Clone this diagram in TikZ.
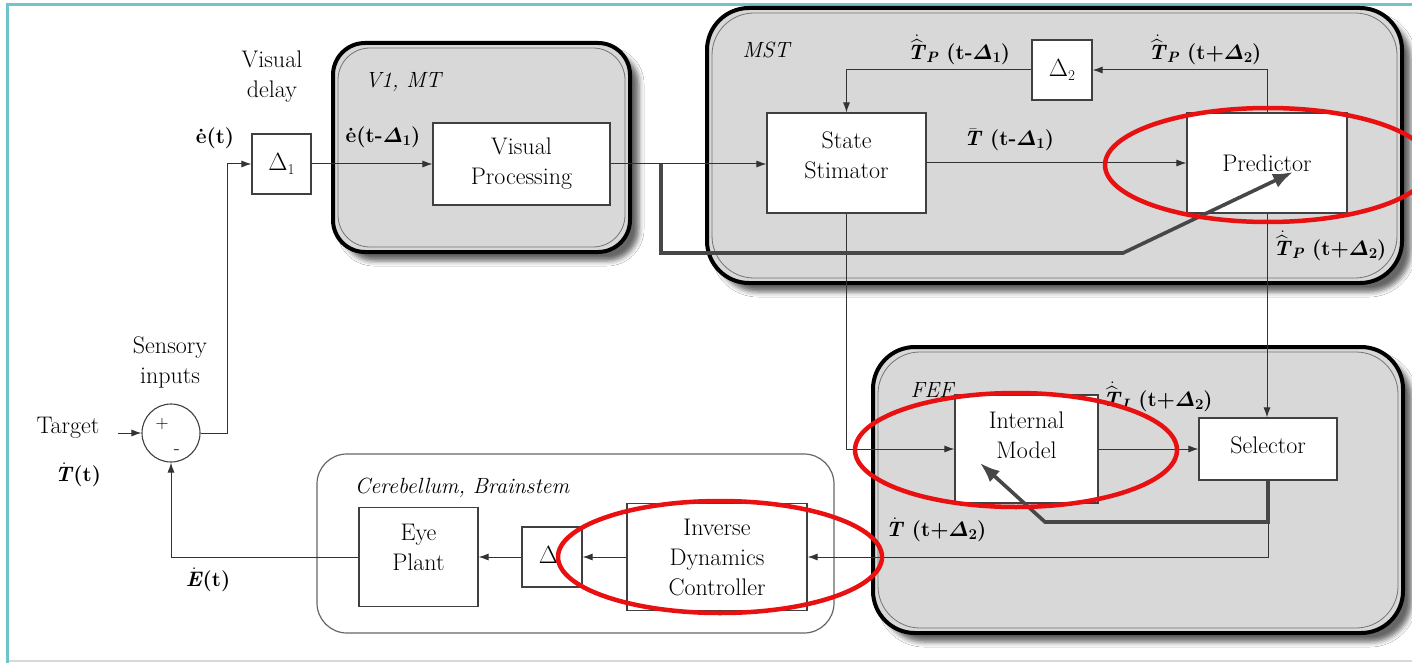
\documentclass[tikz,border=0pt]{standalone}
\usepackage{amsmath}
\usepackage{fontspec}
\usetikzlibrary{arrows.meta,shadows.blur}
\definecolor{grpfill}{RGB}{216,216,216}
\definecolor{frameteal}{RGB}{112,196,202}
\definecolor{ringred}{RGB}{232,16,16}
\newcommand\bT{\mbox{\textbf{\textit{T}}}}
\newcommand\lowsub[1]{\raisebox{-0.3ex}{\fontsize{15}{15}\selectfont #1}}
\newcommand\Tsub[1]{$\dot{\widehat{\bT}}$\lowsub{\textit{#1}}}
\newcommand\dsub[1]{$\boldsymbol{\varDelta}$\lowsub{#1}}
\newcommand\grpbox[5]{%
  \path[fill=grpfill, rounded corners=#5pt, blur shadow={shadow xshift=9pt, shadow yshift=-9pt, shadow opacity=60, shadow blur radius=5pt}] (#1,#2) rectangle (#3,#4);
  \draw[line width=4pt, rounded corners=#5pt] (#1,#2) rectangle (#3,#4);
  \draw[line width=0.8pt, black!55, rounded corners=#5pt] (#1+5,#2+5) rectangle (#3-5,#4-5);}
\tikzset{
  every node/.style={font=\rmfamily\fontsize{24}{30}\selectfont},
  blk/.style={draw=black!75, line width=1.1pt, fill=white, inner sep=0pt, align=center},
  conn/.style={draw=black!80, line width=1pt},
  arr/.style={conn, -{Latex[length=10pt,width=7pt]}},
  thickarr/.style={draw=black!72, line width=3.6pt, -{Latex[length=20pt,width=15pt]}},
  lbl/.style={inner sep=0pt, align=center},
  mlbl/.style={inner sep=0pt, font=\rmfamily\bfseries\fontsize{21}{26}\selectfont},
  grplbl/.style={inner sep=0pt, font=\rmfamily\fontsize{22}{28}\selectfont\itshape},
  redring/.style={draw=ringred, line width=4.5pt},
}
\begin{document}
\begin{tikzpicture}[x=1pt,y=-1pt]
\useasboundingbox (0,0) rectangle (1412,663);
\fill[white] (0,0) rectangle (1412,663);
% frame
\draw[black!15, line width=1.5pt] (7,661) -- (1412,661);
\draw[frameteal, line width=3pt] (7,663) -- (7,5) -- (1412,5);

% groups
\grpbox{333}{43}{630}{252}{32}
\grpbox{707}{8}{1402}{283}{42}
\grpbox{873}{347}{1403}{633}{42}
\draw[black!60, line width=1.2pt, fill=white, rounded corners=30pt] (317,454) rectangle (834,633);

% group labels
\node[grplbl] (gv1) at (403,82) {V1, MT};
\node[grplbl] (gmst) at (766,50) {MST};
\node[grplbl] (gfef) at (932,390) {FEF};
\node[grplbl] (gcb) at (462,488) {Cerebellum, Brainstem};

% blocks
\node[blk, minimum width=59pt, minimum height=60pt] (d1) at (281.5,164) {$\Delta$\lowsub{1}};
\node[blk, minimum width=177pt, minimum height=82pt] (vp) at (521.5,164) {Visual\\Processing};
\node[blk, minimum width=159pt, minimum height=100pt] (ss) at (846.5,163) {};
\node[lbl] (sst) at (846.5,155) {State\\Stimator};
\node[blk, minimum width=160pt, minimum height=100pt] (pred) at (1267,163) {Predictor};
\node[blk, minimum width=60pt, minimum height=60pt] (d2) at (1062,70) {$\Delta$\lowsub{2}};
\node[blk, minimum width=143pt, minimum height=108pt] (im) at (1026.5,449) {};
\node[lbl] (imt) at (1026.5,435) {Internal\\Model};
\node[blk, minimum width=138pt, minimum height=62pt] (sel) at (1268,449) {};
\node[lbl] (selt) at (1268,445) {Selector};
\node[blk, minimum width=180pt, minimum height=107pt] (idc) at (717,557) {Inverse\\Dynamics\\Controller};
\node[blk, minimum width=60pt, minimum height=60pt] (d3) at (552,557) {$\Delta$\lowsub{\phantom{3}}};
\node[blk, minimum width=119pt, minimum height=99pt] (ep) at (418.5,557) {};
\node[lbl] (ept) at (418.5,547) {Eye\\Plant};
\node[draw=black!75, line width=1.1pt, circle, minimum size=58pt, inner sep=0pt] (sum) at (171,433) {};
\node[lbl, font=\rmfamily\fontsize{18}{18}\selectfont] (plus) at (162,424) {+};
\node[lbl, font=\rmfamily\fontsize{20}{20}\selectfont] (minus) at (177,452) {-};

% text labels
\node[lbl] (tvd) at (272,77) {Visual\\delay};
\node[mlbl] (tet) at (215,138) {\.e(t)};
\node[mlbl] (tet1) at (383,137) {\.e(t-\dsub{1})};
\node[mlbl] (ttp1) at (959,50) {\Tsub{P} (t-\dsub{1})};
\node[mlbl] (ttp2) at (1205,50) {\Tsub{P} (t+\dsub{2})};
\node[mlbl] (ttb) at (1009,140) {$\bar{\bT}$ (t-\dsub{1})};
\node[mlbl] (ttp3) at (1330,246) {\Tsub{P} (t+\dsub{2})};
\node[mlbl] (tti) at (1158,397) {\Tsub{I} (t+\dsub{2})};
\node[mlbl] (ttd) at (936,530) {$\dot{\bT}$ (t+\dsub{2})};
\node[lbl] (tsi) at (170,362) {Sensory\\inputs};
\node[lbl] (ttg) at (68,428) {Target};
\node[mlbl] (ttt) at (78,475) {$\dot{\bT}$(t)};
\node[mlbl] (tee) at (208,580) {$\dot{\mbox{\textit{E}}}$(t)};

% connectors
\coordinate (tgt) at (118,433);
\draw[arr] (tgt) -- (sum.west);
\draw[arr] (sum.east) -- ++(27,0) |- (d1.west);
\draw[arr] (d1.east) -- (vp.west);
\draw[arr] (vp.east) -- (vp.east -| ss.west);
\draw[arr] (ss.east) -- (ss.east -| pred.west);
\draw[arr] (pred.north) |- (d2.east);
\draw[arr] (d2.west) -| (ss.north);
\draw[arr] (pred.south) -- (pred.south |- sel.north);
\draw[arr] (ss.south) |- (im.west);
\draw[arr] (im.east) -- (sel.west);
\draw[arr] (sel.south) |- (idc.east);
\draw[arr] (idc.west) -- (d3.east);
\draw[arr] (d3.west) -- (ep.east);
\draw[arr] (ep.west) -| (sum.south);

% thick connectors
\coordinate (br) at (661,164);
\coordinate (tk1) at (1123,253);
\coordinate (tk2) at (1293,172);
\draw[thickarr] (br) |- (tk1) -- (tk2);
\coordinate (tk3) at (1045,522);
\coordinate (tk4) at (980,463);
\draw[thickarr] (sel.south) |- (tk3) -- (tk4);

% red annotation rings
\draw[redring] (1268,165) ellipse [x radius=163, y radius=57];
\draw[redring] (1016,450) ellipse [x radius=161, y radius=57];
\draw[redring] (720,557) ellipse [x radius=162, y radius=56];
\end{tikzpicture}
\end{document}
